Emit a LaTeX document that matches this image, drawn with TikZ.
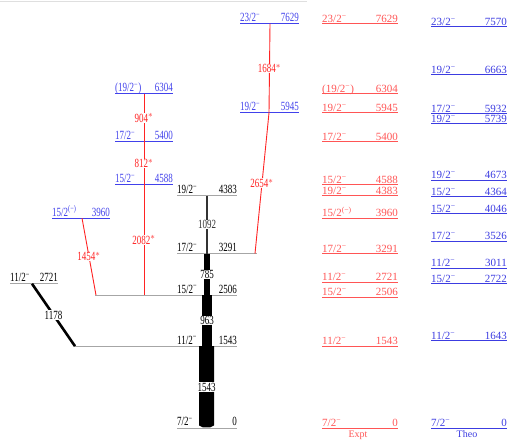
\documentclass[tikz,border=0pt]{standalone}
\usepackage{fontspec}
\setmainfont{Liberation Serif}
\newfontfamily\narrowfont[FakeStretch=0.72]{Liberation Serif}
\newcommand{\sgm}{\textsuperscript{−}}
\newcommand{\sgq}{\textsuperscript{(−)}}
\newcommand{\nfs}{\narrowfont\fontsize{12.5}{13}\selectfont}
\newcommand{\cfs}{\fontsize{11}{12}\selectfont}
\definecolor{lvblue}{RGB}{65,65,235}
\definecolor{gred}{RGB}{255,35,35}
\definecolor{xred}{RGB}{255,85,85}
\definecolor{thblue}{RGB}{60,60,225}

\begin{document}
\begin{tikzpicture}[x=1pt, y=0.053pt,
        jlab/.style={anchor=base west, inner sep=0pt, yshift=2pt, font=\nfs},
        elab/.style={anchor=base east, inner sep=0pt, yshift=2pt, font=\nfs},
        cjlab/.style={anchor=base west, inner sep=0pt, yshift=1.5pt, font=\cfs},
        celab/.style={anchor=base east, inner sep=0pt, yshift=1.5pt, font=\cfs},
        glab/.style={fill=white, inner sep=0.4pt, font=\nfs},
        ray/.style={gred, line width=0.9pt}]
    \useasboundingbox (0,-245.3) rectangle (508,8075.5);
    % Frame line on top
    \draw[gray!25, line width=1pt] (0,8038) -- (307,8038);

    % Levels of the scheme
    \foreach \n/\e/\xa/\xl/\xb/\xe/\jp/\lc/\tc in {
            L0/0/177/177/237/237/{7/2\sgm}/gray!70/black,
            L1543/1543/75/177/237/237/{11/2\sgm}/gray!70/black,
            L2506/2506/95/177/237/237/{15/2\sgm}/gray!70/black,
            L3291/3291/177/177/257/237/{17/2\sgm}/gray!70/black,
            L4383/4383/177/177/237/237/{19/2\sgm}/gray!70/black,
            L2721/2721/10/10/58/58/{11/2\sgm}/gray!70/black,
            L3960/3960/52/52/110/110/{15/2\sgq}/lvblue/lvblue,
            L4588/4588/115/115/173/173/{15/2\sgm}/lvblue/lvblue,
            L5400/5400/115/115/173/173/{17/2\sgm}/lvblue/lvblue,
            L6304/6304/115/115/173/173/{(19/2\sgm)}/lvblue/lvblue,
            L5945/5945/240/240/299/299/{19/2\sgm}/lvblue/lvblue,
            L7629/7629/240/240/299/299/{23/2\sgm}/lvblue/lvblue} {
            \coordinate (\n) at (0,\e);
            \draw[\lc, line width=0.8pt] (\xa,\e) -- (\xb,\e);
            \node[jlab, text=\tc] (\n j) at (\xl,\e) {\jp};
            \node[elab, text=\tc] (\n e) at (\xe,\e) {\e};
        }

    % Yrast band (black)
    \fill ([xshift=199pt]L1543) -- ([xshift=199pt,yshift=2.5pt]L0) -- ([xshift=203pt,yshift=0.5pt]L0)
        -- ([xshift=210pt,yshift=0.5pt]L0) -- ([xshift=214pt,yshift=2.5pt]L0) -- ([xshift=214pt]L1543) -- cycle;
    \path ([xshift=206.5pt]L0) -- ([xshift=206.5pt]L1543) node[midway, glab] {1543};
    \draw[line width=10pt] ([xshift=207pt]L2506) -- ([xshift=207pt]L1543) node[midway, glab] {963};
    \draw[line width=6pt] ([xshift=207pt]L3291) -- ([xshift=207pt]L2506) node[midway, glab] {785};
    \draw[gray!40!black, line width=2pt] ([xshift=207pt]L4383) -- ([xshift=207pt]L3291) node[midway, glab] {1092};
    \draw[line width=2.6pt] ([xshift=32pt]L2721) -- ([xshift=75pt]L1543) node[midway, glab] {1178};

    % New transitions (red)
    \draw[ray] ([xshift=82pt]L3960) -- ([xshift=96pt]L2506) node[midway, glab, text=gred] {1454$^*$};
    \draw[ray] ([xshift=144pt]L4588) -- ([xshift=144pt]L2506) node[midway, glab, text=gred] {2082$^*$};
    \draw[ray] ([xshift=144pt]L5400) -- ([xshift=144pt]L4588) node[midway, glab, text=gred] {812$^*$};
    \draw[ray] ([xshift=144pt]L6304) -- ([xshift=144pt]L5400) node[midway, glab, text=gred] {904$^*$};
    \draw[ray] ([xshift=269pt]L5945) -- ([xshift=255pt]L3291) node[midway, glab, text=gred] {2654$^*$};
    \draw[ray] ([xshift=270pt]L7629) -- ([xshift=269pt]L5945) node[midway, glab, text=gred] {1684$^*$};

    % Expt column
    \foreach \jp/\e/\y in {{23/2\sgm}/7629/7629, {(19/2\sgm)}/6304/6304, {19/2\sgm}/5945/5945,
            {17/2\sgm}/5400/5400, {15/2\sgm}/4588/4588, {19/2\sgm}/4383/4383, {15/2\sgq}/3960/3960,
            {17/2\sgm}/3291/3291, {11/2\sgm}/2721/2755, {15/2\sgm}/2506/2472, {11/2\sgm}/1543/1543,
            {7/2\sgm}/0/0} {
            \draw[xred, line width=0.8pt] (322,\y) -- (398,\y);
            \node[cjlab, text=xred] at (322,\y) {\jp};
            \node[celab, text=xred] at (398,\y) {\e};
        }
    \node[anchor=base, inner sep=0pt, font=\fontsize{10}{11}\selectfont, text=xred] (expt) at (358,-185) {Expt};

    % Theo column
    \foreach \jp/\e in {{23/2\sgm}/7570, {19/2\sgm}/6663, {17/2\sgm}/5932, {19/2\sgm}/5739,
            {19/2\sgm}/4673, {15/2\sgm}/4364, {15/2\sgm}/4046, {17/2\sgm}/3526, {11/2\sgm}/3011,
            {15/2\sgm}/2722, {11/2\sgm}/1643, {7/2\sgm}/0} {
            \draw[thblue, line width=0.8pt] (431,\e) -- (507,\e);
            \node[cjlab, text=thblue] at (431,\e) {\jp};
            \node[celab, text=thblue] at (507,\e) {\e};
        }
    \node[anchor=base, inner sep=0pt, font=\fontsize{10}{11}\selectfont, text=thblue] (theo) at (467,-185) {Theo};
\end{tikzpicture}
\end{document}
